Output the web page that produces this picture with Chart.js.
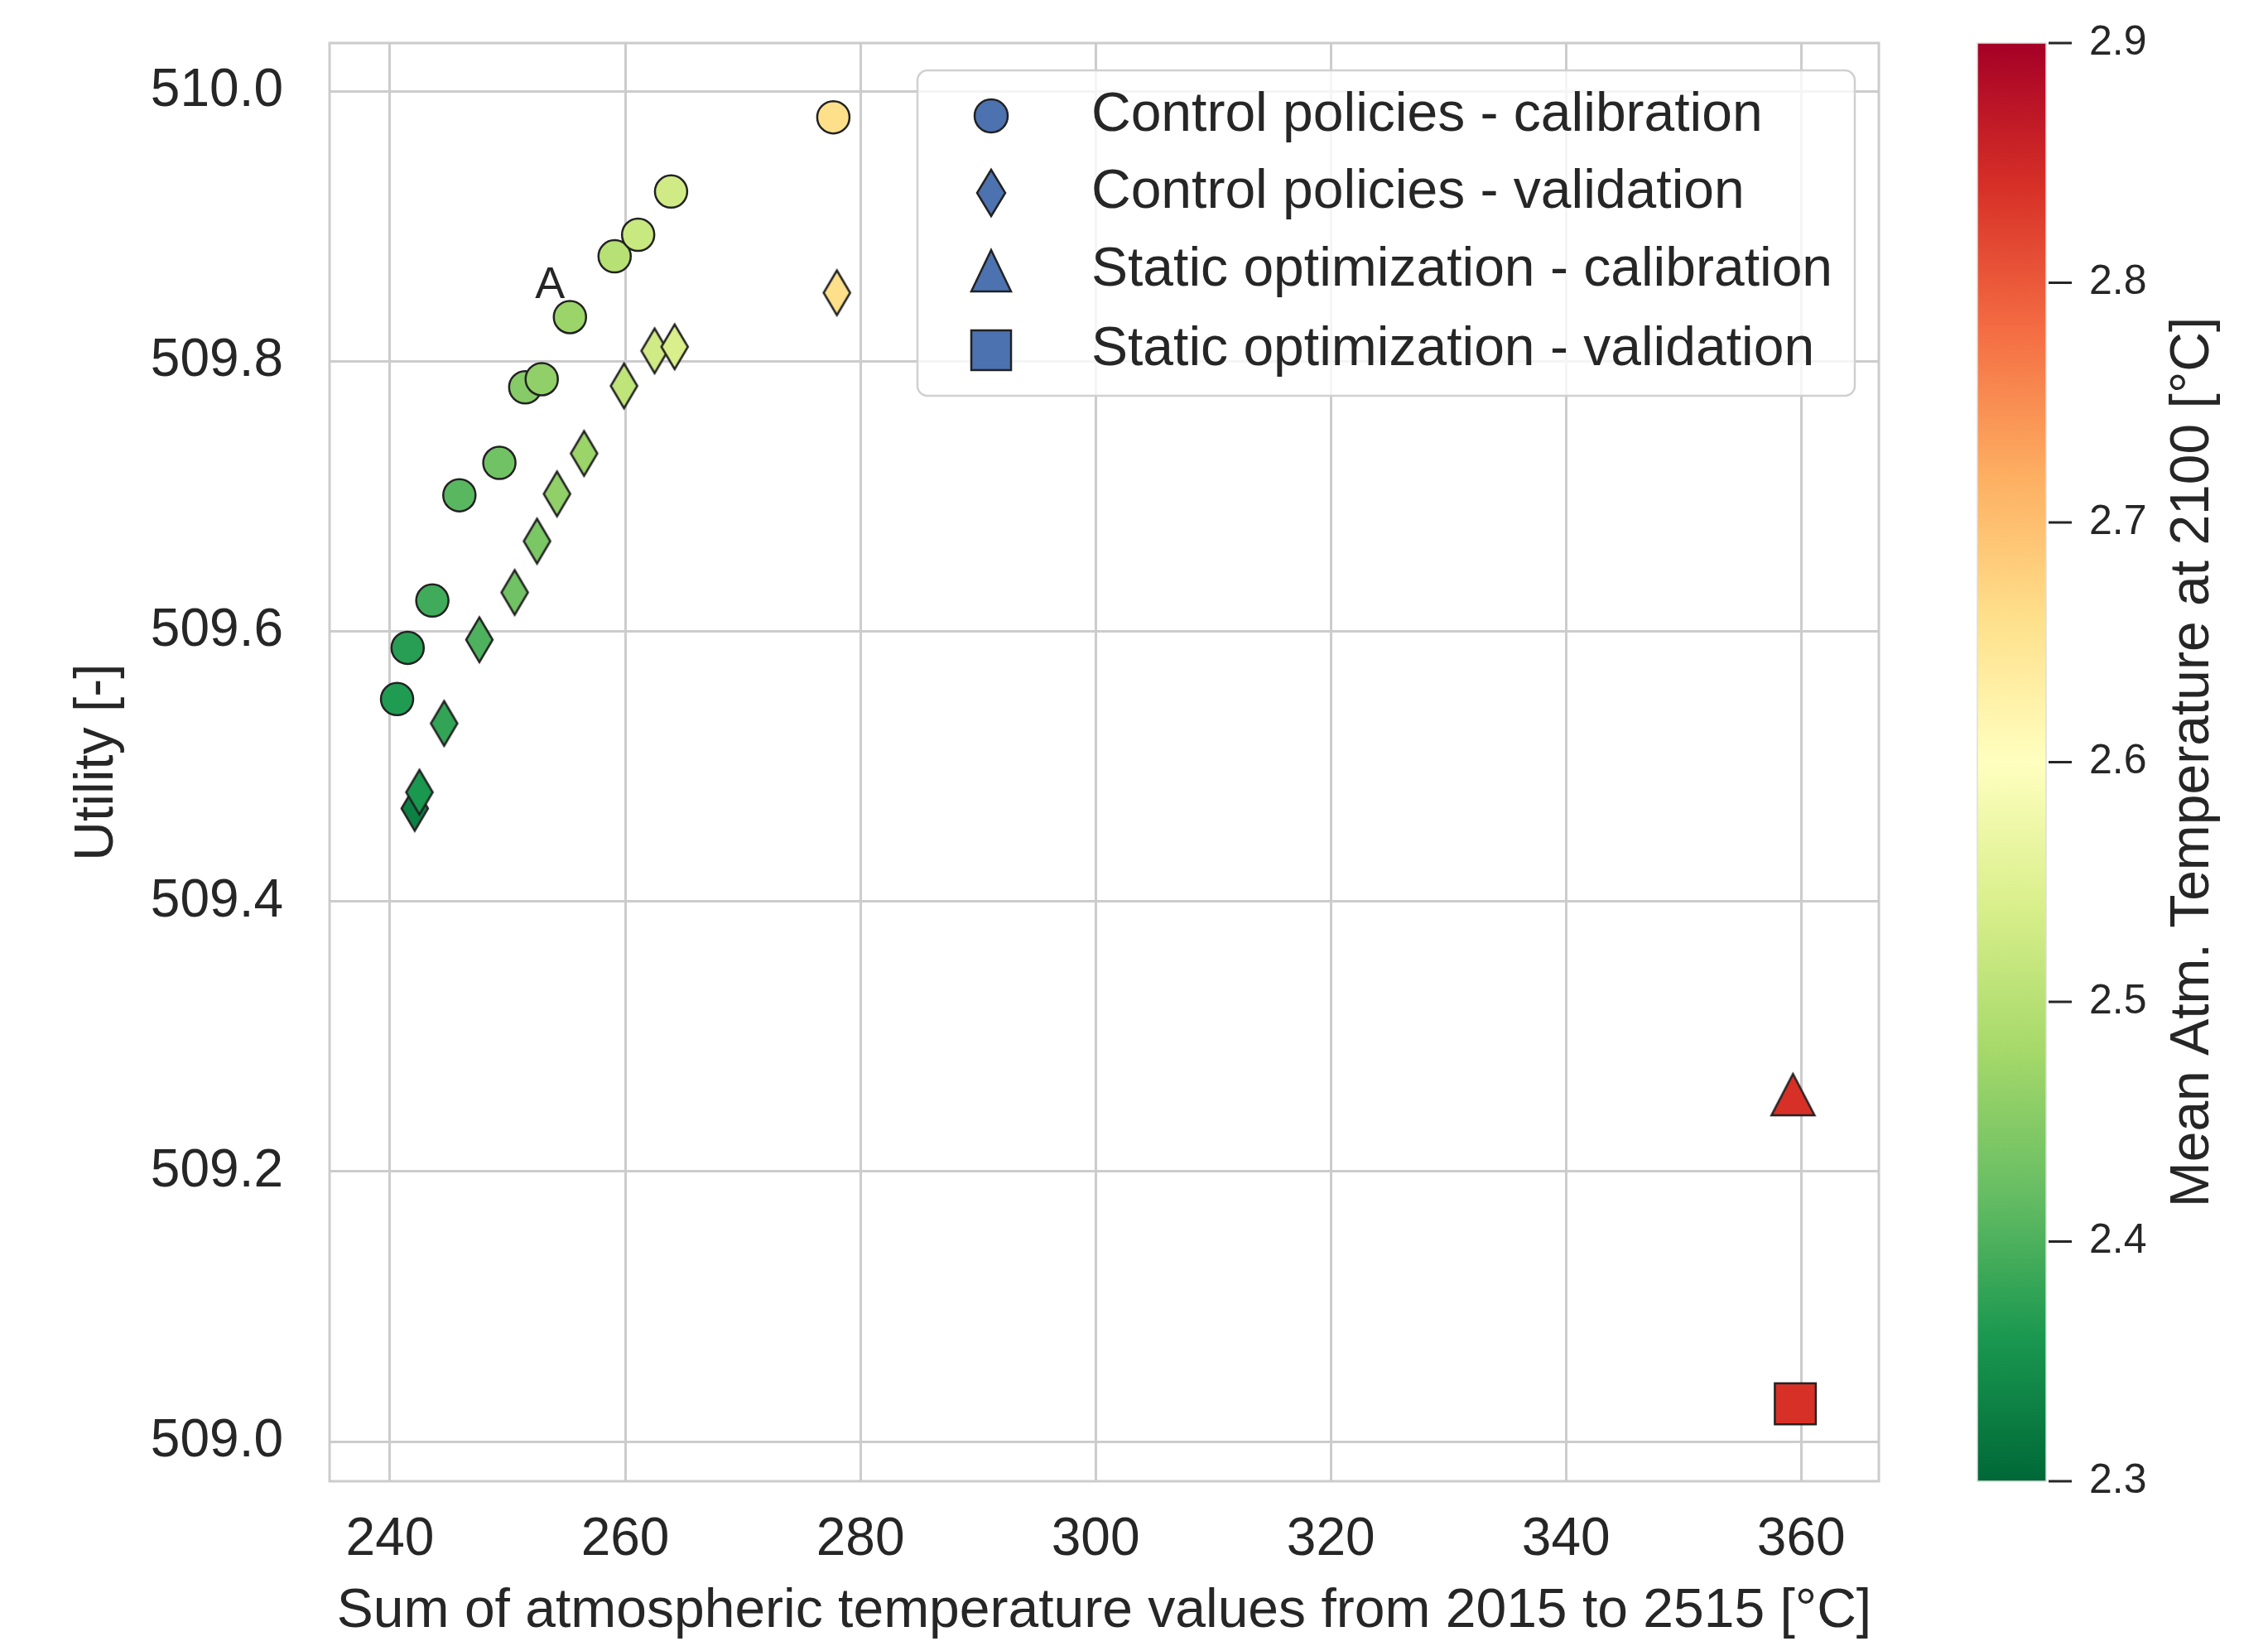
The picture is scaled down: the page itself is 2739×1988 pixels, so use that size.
<!DOCTYPE html>
<html>
<head>
<meta charset="utf-8">
<script src="https://cdn.jsdelivr.net/npm/chart.js@4.4.1/dist/chart.umd.min.js"></script>
<style>
  html, body { margin: 0; padding: 0; background: #fff; }
  #wrap { width: 2739px; height: 1988px; }
</style>
</head>
<body>
<div id="wrap"><canvas id="chart" width="2739" height="1988"></canvas></div>
<script>
// --- data ---
const seriesNames = [
  'Control policies - calibration',
  'Control policies - validation',
  'Static optimization - calibration',
  'Static optimization - validation'
];

// control policies, calibration
const calX = [240.6, 241.5, 243.6, 245.9, 249.3, 251.5, 252.9, 255.3, 259.1, 261.1, 263.9, 277.7];
const calY = [509.550, 509.588, 509.623, 509.701, 509.725, 509.781, 509.787, 509.833, 509.878, 509.894, 509.926, 509.981];
const calT = [2.365, 2.37, 2.39, 2.41, 2.43, 2.45, 2.46, 2.47, 2.50, 2.52, 2.53, 2.66];

// control policies, validation
const valX = [242.1, 242.5, 244.6, 247.6, 250.6, 252.5, 254.2, 256.5, 259.9, 262.5, 264.2, 278.0];
const valY = [509.469, 509.481, 509.532, 509.594, 509.629, 509.667, 509.702, 509.732, 509.782, 509.808, 509.811, 509.851];
const valT = [2.33, 2.36, 2.38, 2.40, 2.43, 2.44, 2.46, 2.47, 2.51, 2.53, 2.54, 2.66];

// static optimization
const socX = [359.3], socY = [509.257], socT = [2.84];
const sovX = [359.5], sovY = [509.028], sovT = [2.84];

// annotation
const annoText = ['A'], annoX = [253.6], annoY = [509.847];

// ticks
const xTicks = [240, 260, 280, 300, 320, 340, 360];
const yTicks = [509.0, 509.2, 509.4, 509.6, 509.8, 510.0];
const cbarTicks = [2.3, 2.4, 2.5, 2.6, 2.7, 2.8, 2.9];

// --- style ---
const TEXT = '#262626';
const EDGE = '#222222';
const GRID = '#cccccc';
const LEGEND_FILL = '#4c72b0';
const FONT = "'Liberation Sans', Arial, sans-serif";
// RdYlGn reversed
const cmapStops = ['#006837', '#1a9850', '#66bd63', '#a6d96a', '#d9ef8b', '#ffffbf',
                   '#fee08b', '#fdae61', '#f46d43', '#d73027', '#a50026'];
const cmin = 2.3, cmax = 2.9;

function hexRgb(h) {
  return [parseInt(h.slice(1, 3), 16), parseInt(h.slice(3, 5), 16), parseInt(h.slice(5, 7), 16)];
}
function cmap(v) {
  let t = (v - cmin) / (cmax - cmin);
  t = Math.max(0, Math.min(1, t)) * (cmapStops.length - 1);
  const i = Math.min(Math.floor(t), cmapStops.length - 2);
  const f = t - i;
  const a = hexRgb(cmapStops[i]), b = hexRgb(cmapStops[i + 1]);
  const c = a.map((x, k) => Math.round(x + (b[k] - x) * f));
  return 'rgb(' + c.join(',') + ')';
}

// thin diamond / triangle markers like matplotlib's 'd' and '^'
function markerCanvas(shape, fill) {
  const w = shape === 'diamond' ? 40 : 58;
  const h = shape === 'diamond' ? 62 : 56;
  const c = document.createElement('canvas');
  c.width = w; c.height = h;
  const g = c.getContext('2d');
  const cx = w / 2, cy = h / 2;
  g.beginPath();
  if (shape === 'diamond') {
    g.moveTo(cx, cy - 27); g.lineTo(cx + 16, cy); g.lineTo(cx, cy + 27); g.lineTo(cx - 16, cy);
  } else {
    g.moveTo(cx, cy - 25); g.lineTo(cx + 26, cy + 25); g.lineTo(cx - 26, cy + 25);
  }
  g.closePath();
  g.fillStyle = fill;
  g.fill();
  g.lineWidth = 2.5;
  g.strokeStyle = EDGE;
  g.stroke();
  return c;
}

const pts = (xs, ys) => xs.map((x, i) => ({ x: x, y: ys[i] }));
const valMarkers = valT.map(t => markerCanvas('diamond', cmap(t)));
const socMarkers = socT.map(t => markerCanvas('triangle', cmap(t)));

// fixed axis sizes, no extra label padding around the plot
function fixSize(w, h) {
  return s => {
    if (w) s.width = w;
    if (h) s.height = h;
    s.paddingTop = 0; s.paddingBottom = 0;
    s.paddingLeft = 0; s.paddingRight = 0;
  };
}

// gridline box around the plot
const spinesPlugin = {
  id: 'spines',
  beforeDatasetsDraw(chart) {
    const { ctx, chartArea: a } = chart;
    ctx.save();
    ctx.strokeStyle = GRID;
    ctx.lineWidth = 3;
    ctx.strokeRect(a.left, a.top, a.right - a.left, a.bottom - a.top);
    ctx.restore();
  }
};

// colorbar, legend box and the "A" label
const extrasPlugin = {
  id: 'extras',
  afterDraw(chart) {
    const { ctx, chartArea: a, scales } = chart;
    const cb = scales.cbar;
    ctx.save();

    // colorbar
    const bx = a.right + 119, bw = 83;
    const y0 = cb.getPixelForValue(cmin), y1 = cb.getPixelForValue(cmax);
    const grad = ctx.createLinearGradient(0, y0, 0, y1);
    cmapStops.forEach((c, i) => grad.addColorStop(i / (cmapStops.length - 1), c));
    ctx.fillStyle = grad;
    ctx.fillRect(bx, y1, bw, y0 - y1);
    ctx.strokeStyle = '#dddddd';
    ctx.lineWidth = 1.5;
    ctx.strokeRect(bx, y1, bw, y0 - y1);
    ctx.strokeStyle = TEXT;
    ctx.lineWidth = 3;
    cbarTicks.forEach(v => {
      const y = cb.getPixelForValue(v);
      ctx.beginPath();
      ctx.moveTo(bx + bw + 3, y);
      ctx.lineTo(bx + bw + 31, y);
      ctx.stroke();
    });
    ctx.save();
    ctx.translate(2649, (a.top + a.bottom) / 2);
    ctx.rotate(-Math.PI / 2);
    ctx.fillStyle = TEXT;
    ctx.font = '66px ' + FONT;
    ctx.textAlign = 'center';
    ctx.textBaseline = 'middle';
    ctx.fillText('Mean Atm. Temperature at 2100 [°C]', 0, 0);
    ctx.restore();

    // annotation
    ctx.fillStyle = TEXT;
    ctx.font = '54px ' + FONT;
    ctx.textAlign = 'center';
    ctx.textBaseline = 'alphabetic';
    annoText.forEach((t, i) => {
      ctx.fillText(t, scales.x.getPixelForValue(annoX[i]), scales.y.getPixelForValue(annoY[i]));
    });

    // legend
    const lw = 1132, lh = 393;
    const lx = a.right - 29 - lw, ly = a.top + 33;
    ctx.beginPath();
    ctx.roundRect(lx, ly, lw, lh, 12);
    ctx.fillStyle = 'rgba(255,255,255,0.8)';
    ctx.fill();
    ctx.strokeStyle = '#d0d0d0';
    ctx.lineWidth = 2.5;
    ctx.stroke();

    const rows = [55, 148, 242, 338];
    const mx = lx + 89;
    seriesNames.forEach((name, i) => {
      const my = ly + rows[i];
      ctx.fillStyle = LEGEND_FILL;
      ctx.strokeStyle = EDGE;
      ctx.lineWidth = 2.5;
      ctx.beginPath();
      if (i === 0) {
        ctx.arc(mx, my, 20, 0, Math.PI * 2);
      } else if (i === 1) {
        ctx.moveTo(mx, my - 28); ctx.lineTo(mx + 17, my); ctx.lineTo(mx, my + 28); ctx.lineTo(mx - 17, my);
        ctx.closePath();
      } else if (i === 2) {
        ctx.moveTo(mx, my - 25); ctx.lineTo(mx + 24, my + 25); ctx.lineTo(mx - 24, my + 25);
        ctx.closePath();
      } else {
        ctx.rect(mx - 24, my - 24, 48, 48);
      }
      ctx.fill();
      ctx.stroke();
      ctx.fillStyle = TEXT;
      ctx.font = '66px ' + FONT;
      ctx.textAlign = 'left';
      ctx.textBaseline = 'middle';
      ctx.fillText(name, lx + 210, my);
    });

    ctx.restore();
  }
};

new Chart(document.getElementById('chart').getContext('2d'), {
  type: 'scatter',
  data: {
    datasets: [
      {
        label: seriesNames[0],
        data: pts(calX, calY),
        pointStyle: 'circle',
        pointRadius: 19.5,
        backgroundColor: calT.map(cmap),
        borderColor: EDGE,
        borderWidth: 2.5
      },
      {
        label: seriesNames[1],
        data: pts(valX, valY),
        pointStyle: ctx => valMarkers[ctx.dataIndex] || 'rectRot',
        pointRadius: 20,
        backgroundColor: valT.map(cmap),
        borderColor: EDGE,
        borderWidth: 2.5
      },
      {
        label: seriesNames[2],
        data: pts(socX, socY),
        pointStyle: ctx => socMarkers[ctx.dataIndex] || 'triangle',
        pointRadius: 25,
        backgroundColor: socT.map(cmap),
        borderColor: EDGE,
        borderWidth: 2.5
      },
      {
        label: seriesNames[3],
        data: pts(sovX, sovY),
        pointStyle: 'rect',
        pointRadius: 35,
        backgroundColor: sovT.map(cmap),
        borderColor: EDGE,
        borderWidth: 2.5
      }
    ]
  },
  options: {
    responsive: false,
    animation: false,
    devicePixelRatio: 1,
    layout: { padding: { top: 52, left: 0, right: 0, bottom: 0 } },
    plugins: {
      legend: { display: false },
      tooltip: { enabled: false }
    },
    scales: {
      x: {
        type: 'linear',
        min: 234.86,
        max: 366.6,
        afterBuildTicks: s => { s.ticks = xTicks.map(v => ({ value: v })); },
        afterFit: fixSize(0, 199),
        grid: { color: GRID, lineWidth: 3, drawTicks: false },
        border: { display: false },
        ticks: {
          color: TEXT,
          font: { size: 64, family: FONT },
          padding: 33,
          maxRotation: 0,
          autoSkip: false,
          callback: v => String(Math.round(v))
        },
        title: {
          display: true,
          text: 'Sum of atmospheric temperature values from 2015 to 2515 [°C]',
          color: TEXT,
          font: { size: 66, family: FONT },
          padding: { top: 0, bottom: 2 }
        }
      },
      y: {
        type: 'linear',
        position: 'left',
        min: 508.9706,
        max: 510.036,
        afterBuildTicks: s => { s.ticks = yTicks.map(v => ({ value: v })); },
        afterFit: fixSize(398, 0),
        grid: { color: GRID, lineWidth: 3, drawTicks: false },
        border: { display: false },
        ticks: {
          color: TEXT,
          font: { size: 64, family: FONT },
          padding: 56,
          autoSkip: false,
          callback: v => v.toFixed(1)
        },
        title: {
          display: true,
          text: 'Utility [-]',
          color: TEXT,
          font: { size: 66, family: FONT },
          padding: { top: 78, bottom: 0 }
        }
      },
      cbar: {
        type: 'linear',
        position: 'right',
        min: cmin,
        max: cmax,
        afterBuildTicks: s => { s.ticks = cbarTicks.map(v => ({ value: v })); },
        afterFit: fixSize(470, 0),
        grid: { display: false, drawTicks: false },
        border: { display: false },
        ticks: {
          color: TEXT,
          font: { size: 50, family: FONT },
          padding: 254,
          autoSkip: false,
          callback: v => v.toFixed(1)
        }
      }
    }
  },
  plugins: [spinesPlugin, extrasPlugin]
});
</script>
</body>
</html>
